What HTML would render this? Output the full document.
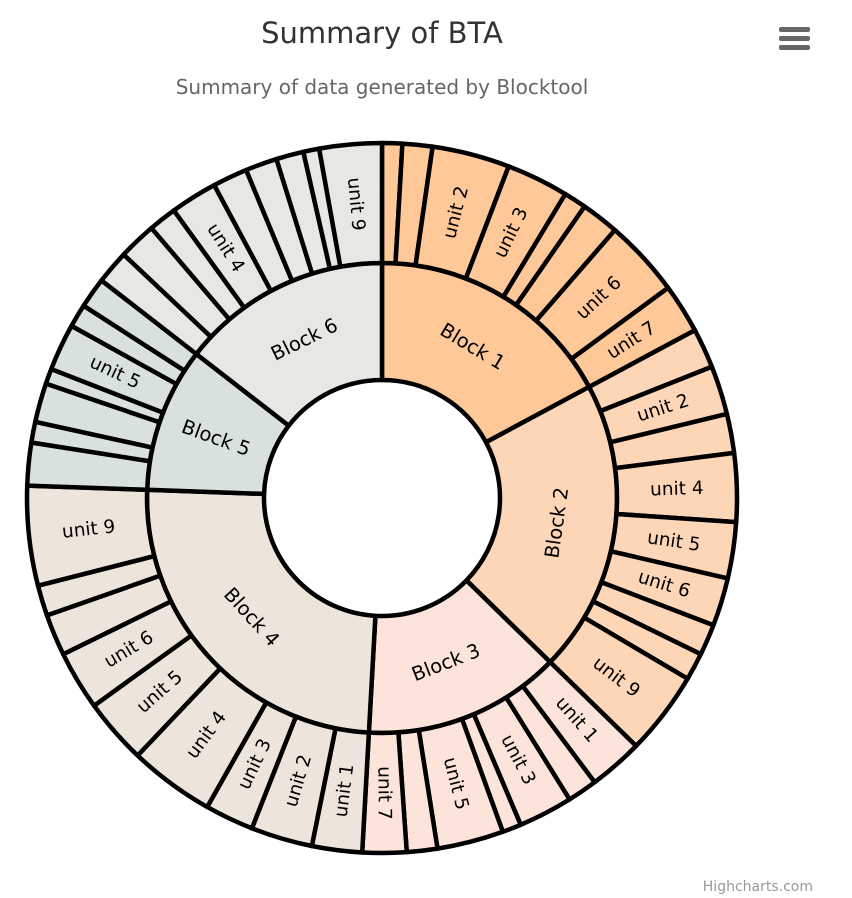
<!DOCTYPE html>
<html><head><meta charset="utf-8">
<style>
html,body{margin:0;padding:0;background:#fff;}
svg{display:block;}
text{font-family:"DejaVu Sans","Liberation Sans",sans-serif;}
</style></head>
<body>
<svg id="chart" width="852" height="898" viewBox="0 0 852 898">
<text x="382" y="43" text-anchor="middle" font-size="29" fill="#333">Summary of BTA</text>
<text x="382" y="94" text-anchor="middle" font-size="20" fill="#666">Summary of data generated by Blocktool</text>
<g>
<rect x="779" y="27" width="31" height="5" rx="2" fill="#666"/>
<rect x="779" y="36" width="31" height="5" rx="2" fill="#666"/>
<rect x="779" y="45" width="31" height="5" rx="2" fill="#666"/>
</g>
<g id="rings"></g>
<text x="813" y="891" text-anchor="end" font-size="14" fill="#999">Highcharts.com</text>
</svg>
<script>
const blockNames = ["Block 1","Block 2","Block 3","Block 4","Block 5","Block 6"];
const blockColors = ["#fec899","#fdd6b8","#fde4da","#ede5dc","#d8e1dc","#e7e8e4"];
const block1Units = [3.3,4.9,12.7,10.2,3.7,6.2,12.7,8.1];
const block2Units = [6.5,8.0,6.4,11.2,9.2,7.9,5.1,4.5,13.7];
const block3Units = [8.9,4.9,8.9,3.1,10.9,5.0,7.2];
const block4Units = [8.2,10.1,8.0,14.0,10.7,9.7,6.8,5.0,16.3];
const block5Units = [7.0,3.4,6.4,2.5,7.7,3.8,5.0];
const block6Units = [5.5,6.2,4.6,7.7,5.7,5.2,4.5,2.6,10.2];
const block1Names = ["unit 0","unit 1","unit 2","unit 3","unit 4","unit 5","unit 6","unit 7"];
const allUnits = [block1Units,block2Units,block3Units,block4Units,block5Units,block6Units];

const cx=382, cy=498, r0=118, r1=235, r2=355;
const total = allUnits.reduce((s,a)=>s+a.reduce((x,y)=>x+y,0),0);
const ang = v => v/total*360;
const g = document.getElementById('rings');
const NS="http://www.w3.org/2000/svg";
function pt(r,a){const t=a*Math.PI/180;return [cx+r*Math.sin(t), cy-r*Math.cos(t)];}
function arc(ri,ro,a0,a1){
  const p1=pt(ro,a0),p2=pt(ro,a1),p3=pt(ri,a1),p4=pt(ri,a0);
  const lg=(a1-a0)>180?1:0;
  return `M${p1[0]},${p1[1]}A${ro},${ro} 0 ${lg} 1 ${p2[0]},${p2[1]}L${p3[0]},${p3[1]}A${ri},${ri} 0 ${lg} 0 ${p4[0]},${p4[1]}Z`;
}
function norm(rot){while(rot>90)rot-=180;while(rot<-90)rot+=180;return rot;}
function label(txt,r,a,rot,size,name){
  const p=pt(r,a);
  const t=document.createElementNS(NS,'text');
  t.setAttribute('x',p[0]);t.setAttribute('y',p[1]);
  t.setAttribute('text-anchor','middle');t.setAttribute('dominant-baseline','central');
  t.setAttribute('font-size',size);t.setAttribute('fill','#000');
  t.setAttribute('transform',`rotate(${rot} ${p[0]} ${p[1]})`);
  t.textContent=txt;
  
  
  g.appendChild(t);
}
let a=0;
allUnits.forEach((units,bi)=>{
  const bs=units.reduce((x,y)=>x+y,0);
  const a0=a, a1=a+ang(bs);
  const p=document.createElementNS(NS,'path');
  p.setAttribute('d',arc(r0,r1,a0,a1));
  p.setAttribute('fill',blockColors[bi]);p.setAttribute('stroke','#000');p.setAttribute('stroke-width','4.5');p.setAttribute('stroke-linejoin','round');
  
  
  g.appendChild(p);
  let u=a0;
  units.forEach((v,ui)=>{
    const s=ang(v);
    const q=document.createElementNS(NS,'path');
    q.setAttribute('d',arc(r1,r2,u,u+s));
    q.setAttribute('fill',blockColors[bi]);q.setAttribute('stroke','#000');q.setAttribute('stroke-width','4.5');q.setAttribute('stroke-linejoin','round');
    
    
    g.appendChild(q);
    if(s>=7.1){
      const name = bi===0 ? block1Names[ui] : 'unit '+(ui+1);
      label(name,(r1+r2)/2,u+s/2,norm(u+s/2-90),18.5,'unit-label');
    }
    u+=s;
  });
  const mid=(a0+a1)/2, span=a1-a0;
  const rot = span<40 ? norm(mid-90) : norm(mid);
  label(blockNames[bi],(r0+r1)/2,mid,rot,19.5,'block-label');
  a=a1;
});
</script>
</body></html>
